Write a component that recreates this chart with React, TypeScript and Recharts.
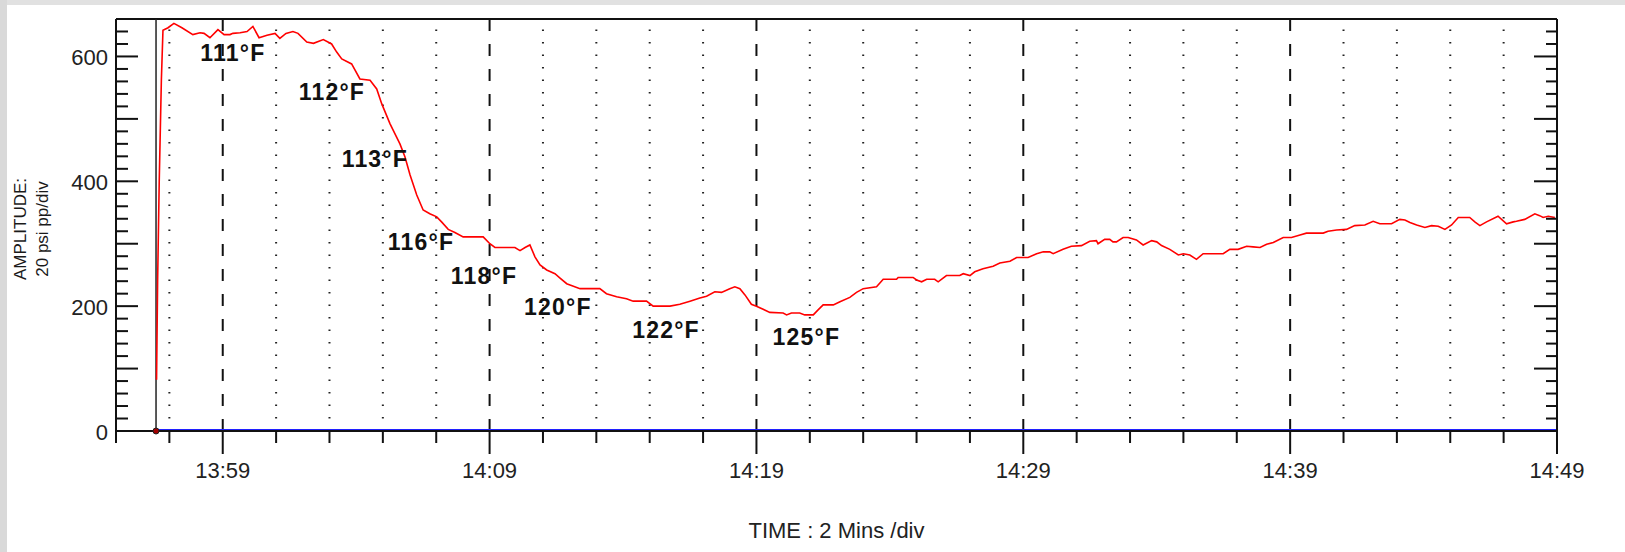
import React from 'react';
import { ComposedChart, Line, XAxis, YAxis, ReferenceLine, ReferenceDot } from 'recharts';

// minutes after 13:55
const redMinutes = [
  1.52, 1.56, 1.62, 1.70, 1.76, 1.95, 2.17, 2.47, 2.88, 3.15, 3.30, 3.52, 3.82, 4.05, 4.27, 4.38, 4.65, 4.91,
  5.13, 5.36, 5.66, 5.96, 6.14, 6.37, 6.63, 6.82, 7.15, 7.40, 7.77, 8.08, 8.27, 8.46, 8.83, 9.14, 9.52, 9.77,
  9.96, 10.27, 10.64, 10.83, 11.02, 11.27, 11.51, 11.76, 12.02, 12.20, 12.45, 12.70, 13.01, 13.76, 14.01, 14.20,
  14.95, 15.14, 15.33, 15.51, 15.70, 15.89, 16.14, 16.45, 16.64, 16.89, 17.14, 17.39, 18.13, 18.38, 18.76, 19.13,
  19.38, 19.88, 20.13, 20.76, 21.13, 21.51, 21.88, 22.13, 22.44, 22.69, 23.00, 23.19, 23.38, 23.57, 23.81, 24.00,
  24.25, 24.50, 25.00, 25.13, 25.31, 25.62, 25.81, 26.13, 26.31, 26.50, 26.88, 27.13, 27.50, 27.75, 28.00, 28.50,
  28.75, 29.25, 29.31, 29.87, 30.00, 30.19, 30.38, 30.68, 30.81, 31.12, 31.62, 31.75, 32.00, 32.18, 32.49, 32.87,
  33.12, 33.50, 33.75, 34.18, 34.50, 34.75, 34.99, 35.12, 35.49, 35.80, 36.18, 36.49, 36.74, 36.80, 37.05, 37.24,
  37.36, 37.49, 37.74, 37.93, 38.24, 38.49, 38.81, 39.00, 39.18, 39.49, 39.81, 40.00, 40.24, 40.49, 40.74, 41.49,
  41.74, 42.05, 42.37, 42.61, 42.87, 43.12, 43.37, 43.74, 44.05, 44.37, 44.61, 45.24, 45.42, 45.74, 46.11, 46.42,
  46.80, 47.11, 47.36, 47.80, 48.11, 48.30, 48.49, 48.74, 49.05, 49.30, 49.55, 49.80, 50.05, 50.30, 50.73, 50.92,
  51.11, 51.36, 51.79, 52.11, 52.36, 52.48, 52.79, 53.17, 53.35, 53.48, 53.67, 53.92,
];
const redAmplitude = [
  82, 242, 400, 562, 642, 646, 653, 646, 635, 638, 637, 630, 643, 635, 635, 637, 638, 640,
  648, 630, 634, 637, 629, 637, 640, 637, 623, 621, 627, 620, 607, 596, 588, 564, 562, 548,
  524, 492, 460, 439, 410, 378, 354, 348, 343, 335, 323, 318, 311, 311, 300, 294,
  294, 289, 294, 298, 279, 266, 258, 252, 245, 236, 232, 228, 228, 220, 215, 212,
  208, 208, 200, 200, 203, 208, 213, 216, 223, 222, 228, 231, 228, 218, 203, 200,
  195, 190, 189, 186, 189, 189, 186, 186, 194, 202, 202, 207, 214, 222, 228, 231,
  243, 243, 246, 246, 242, 239, 243, 243, 239, 249, 249, 252, 249, 255, 260, 264,
  269, 272, 278, 278, 284, 287, 287, 284, 291, 296, 297, 304, 305, 300, 307, 307,
  303, 303, 310, 310, 306, 298, 305, 303, 297, 291, 282, 284, 282, 275, 284, 284,
  291, 291, 296, 295, 294, 299, 302, 310, 310, 314, 317, 317, 320, 322, 323, 329,
  330, 336, 332, 332, 339, 338, 334, 330, 326, 329, 328, 323, 330, 342, 342, 335,
  329, 335, 344, 332, 335, 336, 339, 348, 345, 342, 344, 342,
];

const baselineMinutes = [1.57, 54];
const baselineAmplitude = [0, 0];
const darkSolidMinutes = [1.57, 8.1];
const darkDashedMinutes = [8.1, 54];

const xTicks = [0, 2, 4, 6, 8, 10, 12, 14, 16, 18, 20, 22, 24, 26, 28, 30, 32, 34, 36, 38, 40, 42, 44, 46, 48, 50, 52, 54];
const majorTicks = [4, 14, 24, 34, 44, 54];
const majorLabels = ['13:59', '14:09', '14:19', '14:29', '14:39', '14:49'];
const dottedGrid = [2, 6, 8, 10, 12, 16, 18, 20, 22, 26, 28, 30, 32, 36, 38, 40, 42, 46, 48, 50, 52];
const dashedGrid = [4, 14, 24, 34, 44];

const yTicks = [0, 20, 40, 60, 80, 100, 120, 140, 160, 180, 200, 220, 240, 260, 280, 300, 320, 340, 360, 380,
  400, 420, 440, 460, 480, 500, 520, 540, 560, 580, 600, 620, 640, 660];
const yLongTicks = [100, 200, 300, 400, 500, 600];
const yLabelValues = [0, 200, 400, 600];

const tempLabels = ['111°F', '112°F', '113°F', '116°F', '118°F', '120°F', '122°F', '125°F'];
const tempMinutes = [4.38, 8.09, 9.70, 11.43, 13.79, 16.56, 20.61, 25.87];
const tempAmplitude = [606, 543, 435, 303, 248, 198, 162, 150];

const startMarkerMinute = 1.5;

const redData = redMinutes.map((t, i) => ({ t, v: redAmplitude[i] }));
const baselineData = baselineMinutes.map((t, i) => ({ t, v: baselineAmplitude[i] }));
const darkSolidData = darkSolidMinutes.map((t, i) => ({ t, v: baselineAmplitude[i] }));
const darkDashedData = darkDashedMinutes.map((t, i) => ({ t, v: baselineAmplitude[i] }));

const FONT = '"Liberation Sans", Arial, Helvetica, sans-serif';

const XTick = (props: any) => {
  const { x, y, payload } = props;
  const idx = majorTicks.indexOf(payload.value);
  const isMajor = idx >= 0;
  return (
    <g>
      <line x1={x} y1={y} x2={x} y2={y + (isMajor ? 23 : 12)} stroke="#111" strokeWidth={2} />
      {isMajor && (
        <text x={x} y={y + 39} textAnchor="middle" dominantBaseline="central" fontSize={22} fill="#222" fontFamily={FONT}>
          {majorLabels[idx]}
        </text>
      )}
    </g>
  );
};

const YTickLeft = (props: any) => {
  const { x, y, payload } = props;
  const v = payload.value;
  const long = yLongTicks.indexOf(v) >= 0;
  const li = yLabelValues.indexOf(v);
  return (
    <g>
      {v > 0 && v < 660 && <line x1={x} y1={y} x2={x + (long ? 22 : 12)} y2={y} stroke="#111" strokeWidth={2} />}
      {li >= 0 && (
        <text x={x - 8} y={y + 1} textAnchor="end" dominantBaseline="central" fontSize={22} fill="#222" fontFamily={FONT}>
          {String(v)}
        </text>
      )}
    </g>
  );
};

const YTickRight = (props: any) => {
  const { x, y, payload } = props;
  const v = payload.value;
  const long = yLongTicks.indexOf(v) >= 0;
  if (v <= 0 || v >= 660) return <g />;
  return <line x1={x} y1={y} x2={x - (long ? 23 : 11)} y2={y} stroke="#111" strokeWidth={2} />;
};

const YTitle = (props: any) => {
  const vb = props.viewBox || { x: 56, y: 19, width: 60, height: 412 };
  const cy = vb.y + vb.height / 2 + 4;
  const x1 = vb.x - 36;
  const x2 = vb.x - 14;
  return (
    <g fontFamily={FONT} fontSize={17} fill="#1a1a1a">
      <text x={x1} y={cy} transform={`rotate(-90 ${x1} ${cy})`} textAnchor="middle" dominantBaseline="central">AMPLITUDE:</text>
      <text x={x2} y={cy} transform={`rotate(-90 ${x2} ${cy})`} textAnchor="middle" dominantBaseline="central">20 psi pp/div</text>
    </g>
  );
};

const XTitle = (props: any) => {
  const vb = props.viewBox || { x: 116, y: 431, width: 1441, height: 100 };
  return (
    <text x={vb.x + vb.width / 2} y={vb.y + 99} textAnchor="middle" dominantBaseline="central" fontSize={22} fill="#222" fontFamily={FONT}>
      TIME : 2 Mins /div
    </text>
  );
};

export default function App() {
  return (
    <div style={{ position: 'absolute', left: 0, top: 0, width: 1625, height: 552, background: '#fff', overflow: 'hidden' }}>
      <div style={{ position: 'absolute', left: 0, top: 0, width: 1625, height: 5, background: '#e1e1e1' }} />
      <div style={{ position: 'absolute', left: 0, top: 0, width: 7, height: 552, background: '#d9d9d9' }} />
      <div style={{ position: 'absolute', left: 0, top: 0 }}>
        <ComposedChart width={1625} height={552} margin={{ top: 19, right: 60, bottom: 21, left: 56 }}>
          <XAxis
            dataKey="t"
            type="number"
            domain={[0, 54]}
            ticks={xTicks}
            interval={0}
            tickSize={0}
            tickMargin={0}
            tickLine={false}
            tick={(p: any) => <XTick {...p} />}
            axisLine={{ stroke: '#111', strokeWidth: 2 }}
            height={100}
            allowDataOverflow
            label={<XTitle />}
          />
          <YAxis
            yAxisId="l"
            orientation="left"
            type="number"
            domain={[0, 660]}
            ticks={yTicks}
            interval={0}
            tickSize={0}
            tickMargin={0}
            tickLine={false}
            tick={(p: any) => <YTickLeft {...p} />}
            axisLine={{ stroke: '#111', strokeWidth: 2 }}
            width={60}
            allowDataOverflow
            label={<YTitle />}
          />
          <YAxis
            yAxisId="r"
            orientation="right"
            type="number"
            domain={[0, 660]}
            ticks={yTicks}
            interval={0}
            tickSize={0}
            tickMargin={0}
            tickLine={false}
            tick={(p: any) => <YTickRight {...p} />}
            axisLine={{ stroke: '#111', strokeWidth: 2 }}
            width={8}
            allowDataOverflow
          />
          <ReferenceLine yAxisId="l" y={660} stroke="#111" strokeWidth={2} />
          {dottedGrid.map((t) => (
            <ReferenceLine
              key={`d${t}`}
              yAxisId="l"
              segment={[{ x: t, y: 0 }, { x: t, y: 660 }]}
              stroke="#222"
              strokeWidth={2}
              strokeDasharray="1.5 11"
            />
          ))}
          {dashedGrid.map((t) => (
            <ReferenceLine
              key={`m${t}`}
              yAxisId="l"
              segment={[{ x: t, y: 660 }, { x: t, y: 0 }]}
              stroke="#111"
              strokeWidth={2}
              strokeDasharray="12 13"
            />
          ))}
          <ReferenceLine yAxisId="l" x={startMarkerMinute} stroke="#222" strokeWidth={1.5} />
          <Line
            yAxisId="r"
            data={baselineData}
            dataKey="v"
            stroke="#2020ff"
            strokeWidth={4}
            dot={false}
            activeDot={false}
            isAnimationActive={false}
          />
          <Line
            yAxisId="l"
            data={darkSolidData}
            dataKey="v"
            stroke="#000040"
            strokeWidth={1.5}
            dot={false}
            activeDot={false}
            isAnimationActive={false}
          />
          <Line
            yAxisId="l"
            data={darkDashedData}
            dataKey="v"
            stroke="#000040"
            strokeWidth={1.5}
            strokeDasharray="12 7 8 6 16 7 10 8 22 6 9 7"
            dot={false}
            activeDot={false}
            isAnimationActive={false}
          />
          <Line
            yAxisId="l"
            data={redData}
            dataKey="v"
            stroke="#ff0000"
            strokeWidth={1.6}
            dot={false}
            activeDot={false}
            isAnimationActive={false}
          />
          <ReferenceDot yAxisId="l" x={startMarkerMinute} y={0} r={3} fill="#a00000" stroke="#222" strokeWidth={1} />
          {tempLabels.map((lab, i) => (
            <ReferenceDot
              key={lab}
              yAxisId="l"
              x={tempMinutes[i]}
              y={tempAmplitude[i]}
              r={1}
              shape={(p: any) => (
                <text
                  x={p.cx}
                  y={p.cy}
                  textAnchor="middle"
                  dominantBaseline="central"
                  fontSize={23}
                  fontWeight="bold"
                  letterSpacing={1.2}
                  fill="#111"
                  fontFamily={FONT}
                >
                  {lab}
                </text>
              )}
            />
          ))}
        </ComposedChart>
      </div>
    </div>
  );
}
